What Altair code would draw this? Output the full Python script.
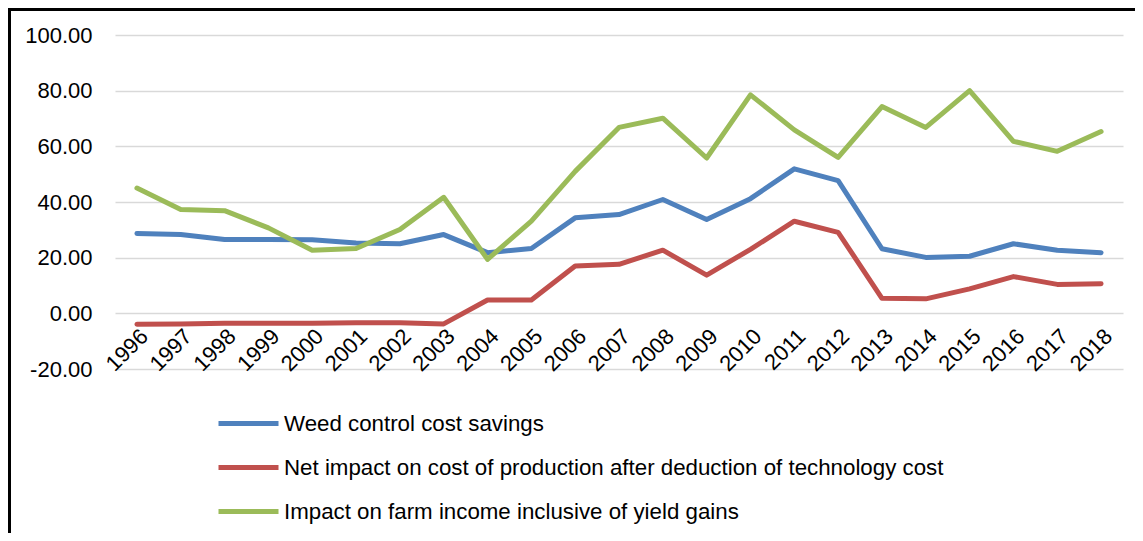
import altair as alt
import pandas as pd

years = [str(y) for y in range(1996, 2019)]
weed = [28.7, 28.3, 26.5, 26.5, 26.4, 25.3, 25.0, 28.3, 21.8, 23.3, 34.3, 35.5, 40.9,
        33.7, 41.2, 51.9, 47.7, 23.2, 20.1, 20.5, 25.0, 22.7, 21.8]
net = [-3.9, -3.8, -3.6, -3.6, -3.6, -3.4, -3.4, -3.8, 4.8, 4.8, 17.0, 17.6, 22.7,
       13.7, 23.0, 33.1, 29.1, 5.4, 5.2, 8.8, 13.2, 10.4, 10.6]
income = [45.0, 37.3, 36.9, 30.7, 22.7, 23.3, 30.1, 41.7, 19.4, 33.1, 51.0, 66.8, 70.1,
          55.8, 78.5, 65.9, 56.0, 74.3, 66.8, 80.0, 61.8, 58.2, 65.3]
series = ["Weed control cost savings",
          "Net impact on cost of production after deduction of technology cost",
          "Impact on farm income inclusive of yield gains"]
colors = ["#4F81BD", "#C0504D", "#9BBB59"]
y_ticks = [-20, 0, 20, 40, 60, 80, 100]

rows = []
for name, vals in zip(series, [weed, net, income]):
    for yr, v in zip(years, vals):
        rows.append({"year": yr, "value": v, "series": name})
df = pd.DataFrame(rows)

W, H = 1008, 334
FONT = "Liberation Sans"

lines = alt.Chart(df).mark_line(strokeWidth=5, strokeCap="round", strokeJoin="round").encode(
    x=alt.X("year:N", sort=years, title=None,
            scale=alt.Scale(paddingInner=1, paddingOuter=0.5),
            axis=alt.Axis(labelAngle=315, domain=False, ticks=False, grid=False,
                          offset=-55.7, labelFontSize=22, labelColor="black",
                          labelFont=FONT, labelPadding=12)),
    y=alt.Y("value:Q", title=None,
            scale=alt.Scale(domain=[-20, 100], nice=False, zero=False),
            axis=alt.Axis(values=y_ticks, domain=False, ticks=False,
                          labelExpr="replace(format(datum.value, '.2f'), '\u2212', '-')",
                          gridColor="#d9d9d9", gridWidth=1.5, labelFontSize=22,
                          labelColor="black", labelFont=FONT, labelPadding=23)),
    color=alt.Color("series:N", sort=series,
                    scale=alt.Scale(domain=series, range=colors),
                    legend=alt.Legend(title=None, orient="none", legendX=101, legendY=356,
                                      direction="vertical", symbolType="stroke",
                                      symbolSize=3600, symbolStrokeWidth=5,
                                      labelFontSize=22.3, labelFont=FONT, labelColor="black",
                                      rowPadding=-15, labelOffset=3, labelLimit=900)),
    order=alt.Order("year:N"),
)

frame = pd.DataFrame({"a": [0]})
top = alt.Chart(frame).mark_rule(color="black", strokeWidth=3).encode(
    x=alt.value(-107), x2=alt.value(W + 12), y=alt.value(-25.5))
left = alt.Chart(frame).mark_rule(color="black", strokeWidth=3).encode(
    x=alt.value(-105.5), y=alt.value(-27), y2=alt.value(H + 164))

chart = alt.layer(lines, top, left).properties(
    width=W, height=H,
    autosize=alt.AutoSizeParams(type="none"),
    padding={"left": 107, "top": 27, "right": 12, "bottom": 164},
    background="white",
).configure_view(stroke=None)

chart.save("out.html", embed_options={"renderer": "svg", "actions": False})
